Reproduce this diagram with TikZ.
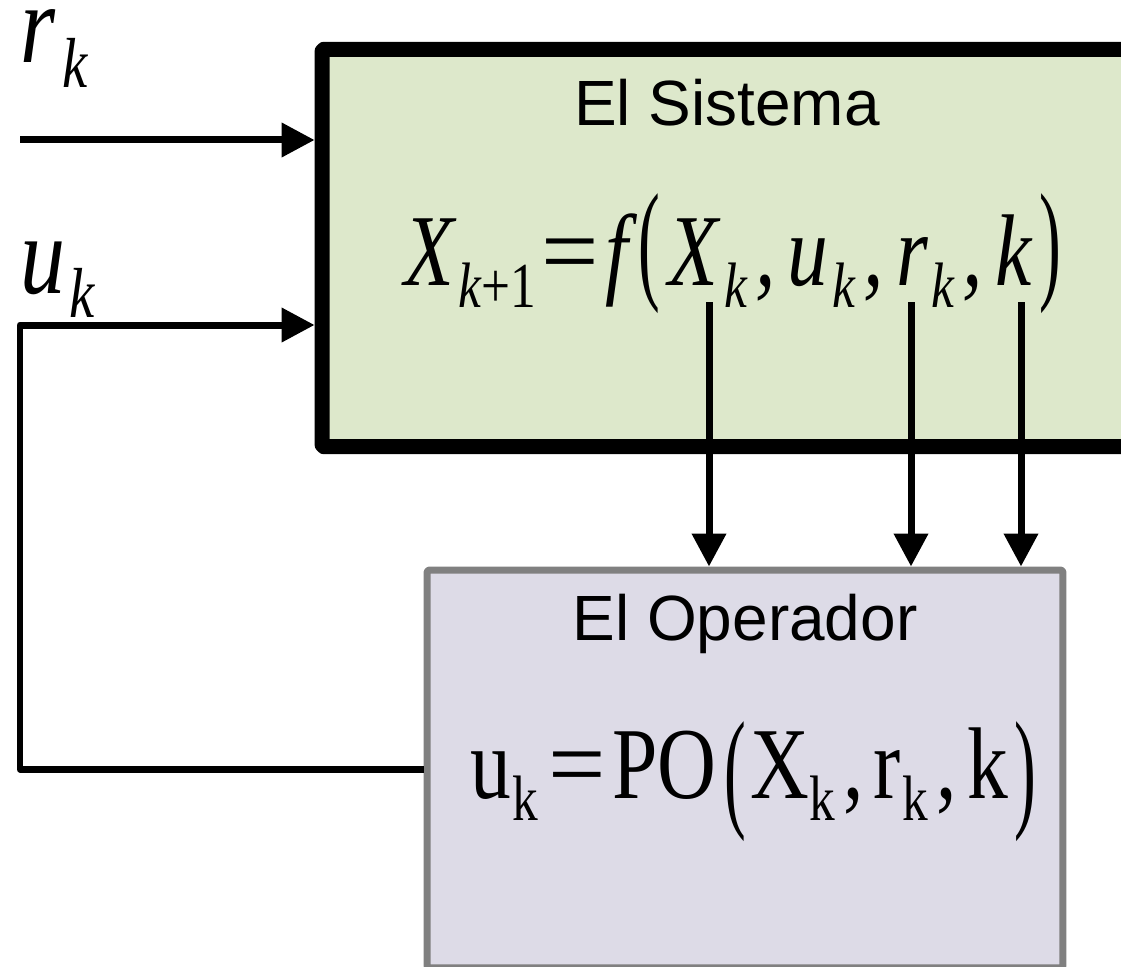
\documentclass[tikz,border=0pt]{standalone}
\usepackage{fontspec}
\newfontfamily\labfont{Liberation Sans}
\newfontfamily\eqfont[FakeStretch=0.8]{Liberation Serif}
\usetikzlibrary{arrows.meta}
\definecolor{sysfill}{HTML}{DDE8CB}
\definecolor{opfill}{HTML}{DDDBE7}
\newcommand\lo[2][0.04em]{\kern#1\raisebox{-0.22em}{\scalebox{0.63}{#2}}}
\newcommand\pa[2][0em]{\raisebox{#1}{\scalebox{0.8}[1.3]{#2}}}
\newcommand\eqsign[2]{\kern#1\scalebox{1.25}[1]{=}\kern#2}
\newcommand\cm[2]{\kern#1,\kern#2}
\begin{document}
\begin{tikzpicture}[x=0.02cm, y=-0.02cm, line join=round, >={Triangle[length=0.66cm,width=0.66cm]},
	sig/.style={line width=0.14cm, ->},
	blocktitle/.style={font=\labfont\fontsize{36.4}{40}\selectfont, anchor=base, inner sep=0pt},
	eq/.style={font=\eqfont\fontsize{58}{62}\selectfont, anchor=base, inner sep=0pt},
	signame/.style={font=\eqfont\itshape\fontsize{64}{66}\selectfont, anchor=base west, inner sep=0pt}]
	\useasboundingbox (0,0) rectangle (1121,966);
	\clip (0,0) rectangle (1121,966);
	% bloques
	\node (sys) at (786,248) [draw, line width=0.3cm, rounded corners=1pt, fill=sysfill,
		minimum width=18.56cm, minimum height=7.95cm, inner sep=0pt]{};
	\node (op) at (745,769) [draw=gray, line width=0.14cm, rounded corners=1pt, fill=opfill,
		minimum width=12.72cm, minimum height=7.96cm, inner sep=0pt]{};
	\node (systitle) at (727,126) [blocktitle]{El Sistema};
	\node (optitle) at (745,640) [blocktitle]{El Operador};
	\node (syseq) at (733,285) [eq]{\itshape X\lo{k\upshape+1}\upshape\eqsign{.06em}{.06em}\itshape f\kern.1em\pa{\upshape(}\kern.08em X\lo[.06em]{k}\cm{.08em}{.12em}u\lo{k}\cm{.08em}{.12em}r\lo{k}\cm{.08em}{.12em}k\kern.08em\pa{\upshape)}};
	\node (opeq) at (753,798) [eq]{u\lo[.02em]{k}\eqsign{.1em}{.06em}PO\kern.08em\pa[-0.15em]{(}\kern.04em X\lo[0em]{k}\cm{.08em}{.1em}r\lo[.02em]{k}\cm{.08em}{.1em}k\kern.06em\pa[-0.15em]{)}};
	% entradas
	\node (rlab) at (20,63) [signame]{r\lo[.06em]{k}};
	\node (ulab) at (20,293) [signame]{u\lo{k}};
	\coordinate (rin) at (20,140);
	\coordinate (uin) at (20,325);
	\draw[sig] (rin) -- (sys.west |- rin);
	\draw[sig] (op.west) -| (uin) -- (sys.west |- uin);
	% salidas hacia el operador
	\coordinate (xk) at (709,302);
	\coordinate (rk) at (911,302);
	\coordinate (kk) at (1021,302);
	\foreach \c in {xk,rk,kk}
		\draw[sig] (\c) -- (\c |- op.north);
\end{tikzpicture}
\end{document}
